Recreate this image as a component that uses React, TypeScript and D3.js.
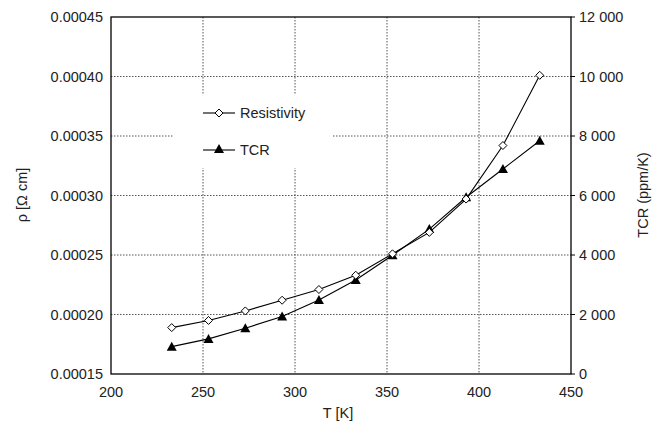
import React from "react";
import * as d3 from "d3";

// temperatures (K)
const temps = [233, 253, 273, 293, 313, 333, 353, 373, 393, 413, 433];
// resistivity (Ohm cm)
const resistivity = [0.000189, 0.000195, 0.000203, 0.000212, 0.000221, 0.000233, 0.000251, 0.000269, 0.000297, 0.000342, 0.000401];
// TCR (ppm/K)
const tcr = [920, 1180, 1540, 1930, 2490, 3160, 3990, 4870, 5940, 6890, 7840];

const xTicks = [200, 250, 300, 350, 400, 450];
const leftTicks = [0.00015, 0.0002, 0.00025, 0.0003, 0.00035, 0.0004, 0.00045];
const rightTicks = [0, 2000, 4000, 6000, 8000, 10000, 12000];

const W = 664;
const H = 429;
const m = { left: 111, right: 571, top: 17, bottom: 374 };
const font = "'Liberation Sans', Arial, Helvetica, sans-serif";

export default function App() {
  const x = d3.scaleLinear().domain([200, 450]).range([m.left, m.right]);
  const yL = d3.scaleLinear().domain([0.00015, 0.00045]).range([m.bottom, m.top]);
  const yR = d3.scaleLinear().domain([0, 12000]).range([m.bottom, m.top]);

  const resLine = d3.line<number>().x((_, i) => x(temps[i])).y((d) => yL(d))(resistivity) || "";
  const tcrLine = d3.line<number>().x((_, i) => x(temps[i])).y((d) => yR(d))(tcr) || "";

  const diamond = (cx: number, cy: number, r = 4) =>
    `M${cx},${cy - r}L${cx + r},${cy}L${cx},${cy + r}L${cx - r},${cy}Z`;
  const tri = (cx: number, cy: number, s = 5) =>
    `M${cx},${cy - s}L${cx + s},${cy + s * 0.8}L${cx - s},${cy + s * 0.8}Z`;

  const fmtL = (v: number) => v.toFixed(5);
  const fmtR = (v: number) => d3.format(",")(v).replace(/,/g, " ");

  const grid = { stroke: "#555", strokeWidth: 1, strokeDasharray: "1.5,1.5" };

  return (
    <svg width={W} height={H} style={{ position: "absolute", left: 0, top: 0, background: "#fff" }} fontFamily={font}>
      {/* grid */}
      {xTicks.slice(1, -1).map((t) => (
        <line key={"gx" + t} x1={x(t)} x2={x(t)} y1={m.top} y2={m.bottom} {...grid} />
      ))}
      {leftTicks.slice(1, -1).map((t) => (
        <line key={"gy" + t} x1={m.left} x2={m.right} y1={yL(t)} y2={yL(t)} {...grid} />
      ))}
      {/* legend background */}
      <rect x={174} y={95} width={159} height={73} fill="#fff" />

      {/* frame */}
      <rect x={m.left} y={m.top} width={m.right - m.left} height={m.bottom - m.top} fill="none" stroke="#000" strokeWidth={1.3} />

      {/* right ticks */}
      {rightTicks.map((t) => (
        <line key={"rt" + t} x1={m.right} x2={m.right + 4} y1={yR(t)} y2={yR(t)} stroke="#000" />
      ))}

      {/* tick labels */}
      {leftTicks.map((t) => (
        <text key={"ll" + t} x={103} y={yL(t)} dy="0.35em" textAnchor="end" fontSize={14.5} fill="#222">
          {fmtL(t)}
        </text>
      ))}
      {rightTicks.map((t) => (
        <text key={"rl" + t} x={579} y={yR(t)} dy="0.35em" textAnchor="start" fontSize={14.5} fill="#222">
          {fmtR(t)}
        </text>
      ))}
      {xTicks.map((t) => (
        <text key={"xl" + t} x={x(t)} y={397} textAnchor="middle" fontSize={14.5} fill="#222">
          {t}
        </text>
      ))}

      {/* axis titles */}
      <text x={338} y={418} textAnchor="middle" fontSize={14.5} fill="#222">T [K]</text>
      <text transform={`translate(27,195) rotate(-90)`} textAnchor="middle" fontSize={14.5} fill="#222">ρ [Ω cm]</text>
      <text transform={`translate(648,195) rotate(-90)`} textAnchor="middle" fontSize={14.5} fill="#222">TCR (ppm/K)</text>

      {/* series */}
      <path d={resLine} fill="none" stroke="#000" strokeWidth={1.1} />
      <path d={tcrLine} fill="none" stroke="#000" strokeWidth={1.1} />
      {tcr.map((v, i) => (
        <path key={"t" + i} d={tri(x(temps[i]), yR(v))} fill="#000" />
      ))}
      {resistivity.map((v, i) => (
        <path key={"r" + i} d={diamond(x(temps[i]), yL(v))} fill="#fff" stroke="#000" strokeWidth={1} />
      ))}

      {/* legend */}
      <line x1={203} x2={235} y1={113} y2={113} stroke="#000" strokeWidth={1.1} />
      <path d={diamond(219, 113)} fill="#fff" stroke="#000" />
      <text x={240} y={113} dy="0.35em" fontSize={14.5} fill="#222">Resistivity</text>
      <line x1={203} x2={235} y1={150} y2={150} stroke="#000" strokeWidth={1.1} />
      <path d={tri(219, 149)} fill="#000" />
      <text x={240} y={150} dy="0.35em" fontSize={14.5} fill="#222">TCR</text>
    </svg>
  );
}
